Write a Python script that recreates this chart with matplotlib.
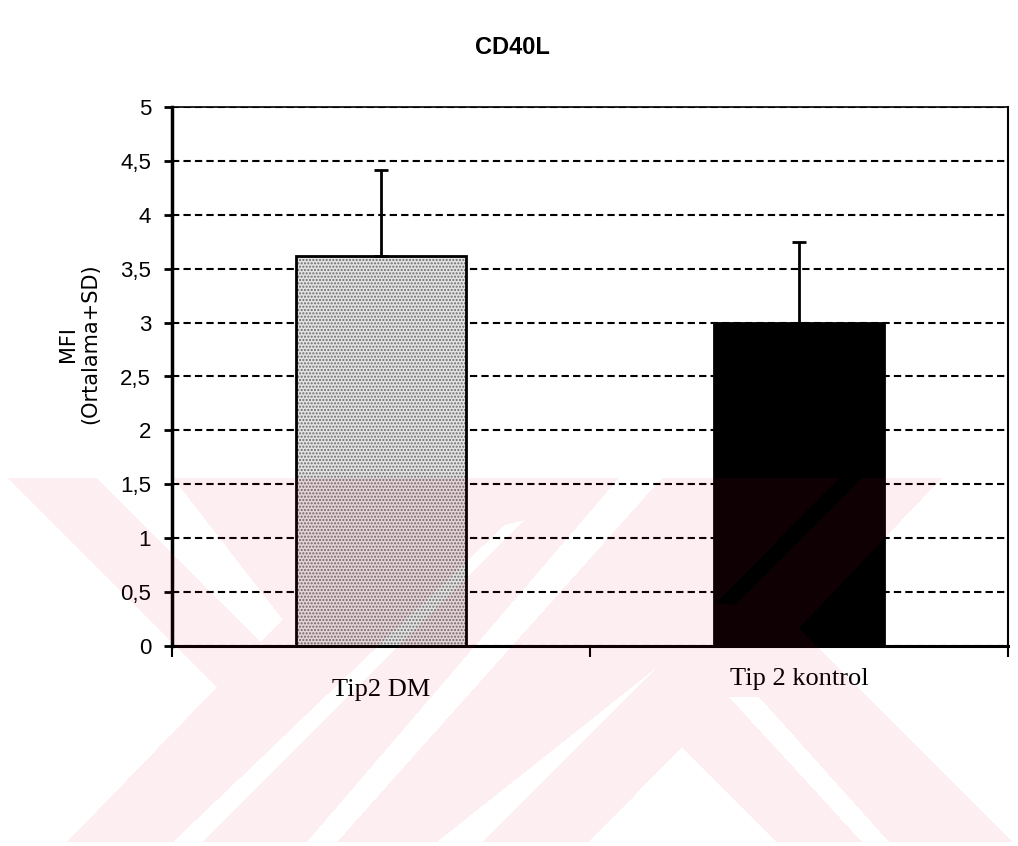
import numpy as np
import matplotlib.pyplot as plt
import matplotlib.transforms as mtransforms
from matplotlib.path import Path

# data
groups = ['Tip2 DM', 'Tip 2 kontrol']
means = [3.62, 3.0]
sds = [0.80, 0.75]
yticks = [0, 0.5, 1, 1.5, 2, 2.5, 3, 3.5, 4, 4.5, 5]
ytick_labels = ['0', '0,5', '1', '1,5', '2', '2,5', '3', '3,5', '4', '4,5', '5']

W, H = 1018, 846
fig = plt.figure(figsize=(W / 100, H / 100), dpi=100)
ax = fig.add_axes([172 / W, 1 - 646 / H, 836 / W, 539 / H])

x = np.arange(len(groups))
bw = 0.407

# stippled grey bar + black bar
ax.bar(x[0], means[0], width=bw, color='#e2e2e2', hatch='.....',
       edgecolor='#6a6a6a', linewidth=0, zorder=2)
ax.bar(x[1], means[1], width=bw, color='black', linewidth=0, zorder=2)
ax.bar(x, means, width=bw, fill=False, edgecolor='black', linewidth=2, zorder=3)

ax.errorbar(x, means, yerr=[[0] * len(sds), sds], fmt='none', ecolor='black',
            elinewidth=2, capsize=5, capthick=2, zorder=4)

ax.set_xlim(-0.5, 1.5)
ax.set_ylim(0, 5)
ax.set_yticks(yticks, ytick_labels)
ax.yaxis.grid(True, linestyle=(0, (3.5, 2)), color='black', linewidth=1.5)
ax.set_axisbelow(True)
ax.tick_params(axis='y', direction='out', length=6, width=2, pad=9,
               labelsize=16, labelfontfamily='Liberation Sans')

ax.set_xticks(x, groups, family='Liberation Serif', fontsize=19)
ax.set_xticks([-0.5, 0.5, 1.5], minor=True)
ax.tick_params(axis='x', which='major', length=0, pad=24)
ax.tick_params(axis='x', which='minor', direction='out', length=8, width=1.5)
# the second label sits a bit higher in the original
lbl = ax.get_xticklabels()[1]
lbl.set_transform(lbl.get_transform() +
                  mtransforms.ScaledTranslation(0, 11 / 100, fig.dpi_scale_trans))

ax.spines['left'].set_linewidth(2.5)
ax.spines['bottom'].set_linewidth(2.2)
ax.spines['top'].set_linewidth(1.2)
ax.spines['right'].set_linewidth(1.5)

fig.text(512 / W, 1 - 48 / H, 'CD40L', ha='center', va='center',
         fontsize=17, fontweight='bold', family='Liberation Sans')
fig.text(79 / W, 1 - 344 / H, 'MFI\n(Ortalama+SD)', rotation=90,
         ha='center', va='center', multialignment='center',
         fontsize=15, family='DejaVu Sans', linespacing=1.1)

# faint pink watermark over the lower part of the page
envelope = [(7, 478), (942, 478), (799, 628), (1012, 842), (67, 842), (217, 687)]
cutouts = [
    [(97, 478), (173, 478), (283, 620), (260, 642)],
    [(173, 842), (203, 842), (525, 520), (505, 525)],
    [(307, 842), (337, 842), (662, 478), (619, 478)],
    [(437, 842), (483, 842), (660, 665)],
    [(839, 478), (862, 478), (735, 605), (716, 603)],
    [(589, 842), (682, 747), (776, 842)],
    [(729, 697), (759, 697), (889, 842), (862, 842)],
]
gx, gy = np.meshgrid(np.arange(W) + 0.5, np.arange(H) + 0.5)
pts = np.column_stack([gx.ravel(), gy.ravel()])
mask = Path(envelope).contains_points(pts)
for c in cutouts:
    mask &= ~Path(c).contains_points(pts)
rgba = np.zeros((H, W, 4))
rgba[..., 0] = 0.93
rgba[..., 2] = 0.2
rgba[..., 3] = mask.reshape(H, W) * 0.07
wm = fig.add_axes([0, 0, 1, 1], zorder=10)
wm.imshow(rgba, extent=(0, W, H, 0), interpolation='nearest')
wm.set_xlim(0, W)
wm.set_ylim(H, 0)
wm.axis('off')

plt.savefig('out.png', dpi=100)
